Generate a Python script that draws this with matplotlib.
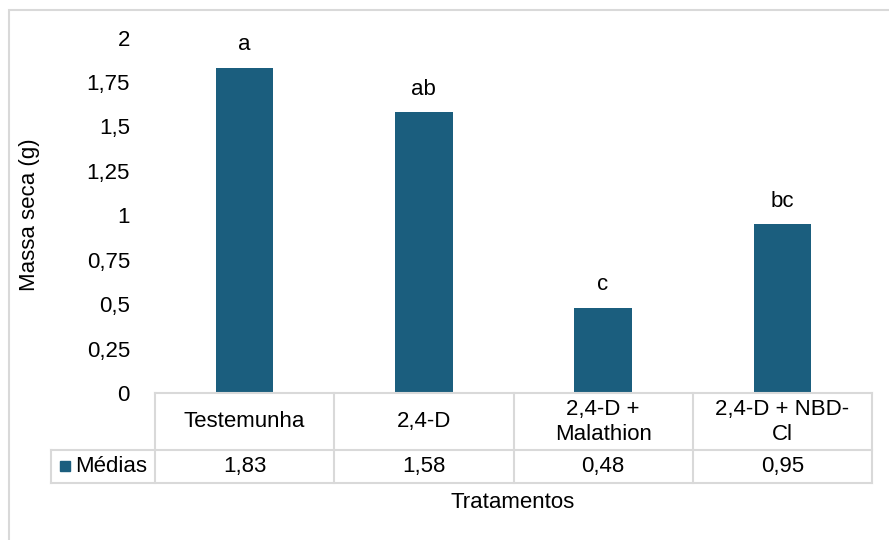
import matplotlib.pyplot as plt
import matplotlib.transforms as mtransforms
from matplotlib.patches import Rectangle

plt.rcParams['font.family'] = ['Liberation Sans', 'DejaVu Sans']

tratamentos = ['Testemunha', '2,4-D', '2,4-D +\nMalathion', '2,4-D + NBD-\nCl']
medias = [1.83, 1.58, 0.48, 0.95]
medias_txt = ['1,83', '1,58', '0,48', '0,95']
letras = ['a', 'ab', 'c', 'bc']
yticks = [0, 0.25, 0.5, 0.75, 1, 1.25, 1.5, 1.75, 2]
yticklabels = ['0', '0,25', '0,5', '0,75', '1', '1,25', '1,5', '1,75', '2']

COR = '#1b5e7e'
GRADE = '#d9d9d9'
FS = 16
W, H = 889, 540

fig = plt.figure(figsize=(W / 100, H / 100), dpi=100)
# moldura externa do gráfico
fig.patches.append(Rectangle((9 / W, -0.1), 1.2, (540 - 10) / H + 0.1,
                             transform=fig.transFigure, fill=False,
                             edgecolor=GRADE, linewidth=1.5))

ax = fig.add_axes([155 / W, (H - 393) / H, (872 - 155) / W, (393 - 37.5) / H])
x = range(len(medias))
ax.bar(x, medias, width=0.32, color=COR)
for i, (v, l) in enumerate(zip(medias, letras)):
    ax.text(i, v + 0.07, l, ha='center', va='bottom', fontsize=FS)

ax.set_xlim(-0.5, 3.5)
ax.set_ylim(0, 2)
ax.set_yticks(yticks)
ax.set_yticklabels(yticklabels, fontsize=FS)
ax.tick_params(axis='y', length=0, pad=18)
ax.set_xticks([])
for s in ax.spines.values():
    s.set_visible(False)

# tabela de dados abaixo do eixo
tr = mtransforms.blended_transform_factory(ax.transData, fig.transFigure)
def fy(py):
    return 1 - py / H

y_top, y_mid, y_bot = fy(393), fy(450), fy(483)
x_leg = -0.5 - (155 - 51) / 179.25
lw = 1.5
ax.plot([-0.5, 3.5], [y_top, y_top], color=GRADE, lw=lw, transform=tr, clip_on=False)
ax.plot([x_leg, 3.5], [y_mid, y_mid], color=GRADE, lw=lw, transform=tr, clip_on=False)
ax.plot([x_leg, 3.5], [y_bot, y_bot], color=GRADE, lw=lw, transform=tr, clip_on=False)
ax.plot([x_leg, x_leg], [y_mid, y_bot], color=GRADE, lw=lw, transform=tr, clip_on=False)
for k in range(5):
    xb = k - 0.5
    ax.plot([xb, xb], [y_top, y_bot], color=GRADE, lw=lw, transform=tr, clip_on=False)

for i, (t, m) in enumerate(zip(tratamentos, medias_txt)):
    ax.text(i, (y_top + y_mid) / 2, t, ha='center', va='center', fontsize=FS,
            linespacing=1.25, transform=tr)
    ax.text(i, (y_mid + y_bot) / 2, m, ha='center', va='center', fontsize=FS,
            transform=tr)

ax.add_patch(Rectangle((x_leg + 9 / 179.25, fy(471)), 10 / 179.25, 10 / H,
                       transform=tr, color=COR, clip_on=False))
ax.text(x_leg + 24 / 179.25, (y_mid + y_bot) / 2, 'Médias', ha='left', va='center',
        fontsize=FS, transform=tr)

fig.text(513 / W, fy(503), 'Tratamentos', ha='center', va='center', fontsize=FS)
fig.text(30 / W, fy(215), 'Massa seca (g)', ha='center', va='center',
         rotation=90, fontsize=FS)

fig.savefig('out.png', dpi=100)
